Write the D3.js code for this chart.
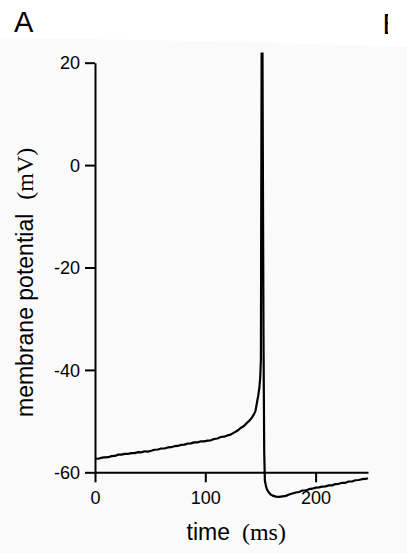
<!DOCTYPE html>
<html>
<head>
<meta charset="utf-8">
<script src="https://cdn.jsdelivr.net/npm/d3@7"></script>
<style>
  html, body { margin: 0; padding: 0; background: #fff; }
  svg { display: block; }
</style>
</head>
<body>
<svg id="chart" width="407" height="553"></svg>
<script>
// Membrane potential trace (time in ms, voltage in mV)
const timeMs = [
  0, 3, 6, 9, 12, 15, 18, 21, 24, 27, 30, 33, 36, 39, 42, 45, 48, 51, 54, 57,
  60, 63, 66, 69, 72, 75, 78, 81, 84, 87, 90, 93, 96, 99, 102, 105, 108, 111, 114, 117,
  120, 123, 126, 129, 132, 135, 138, 140, 142, 144, 145.5, 147, 148, 149, 149.8, 150.4,
  150.8, 151.1, 151.4, 151.8, 152.2, 152.8, 153.4, 154, 155, 156, 157.5, 159, 161, 164,
  167, 170, 173, 176, 179, 182, 185, 188, 191, 194, 197, 200, 203, 206, 209, 212, 215,
  218, 221, 224, 227, 230, 233, 236, 239, 242, 245, 247.5
];
const voltageMv = [
  -57.3, -57.35, -57.15, -57.1, -57.05, -56.85, -56.8, -56.55, -56.55, -56.4, -56.4, -56.25, -56.25, -56.05, -56.1, -55.9, -55.95, -55.8, -55.6, -55.55,
  -55.35, -55.35, -55.15, -55.1, -54.9, -54.85, -54.65, -54.6, -54.4, -54.35, -54.15, -54.15, -53.95, -53.95, -53.8, -53.75, -53.5, -53.4, -53.1, -53.05,
  -52.8, -52.65, -52.25, -51.9, -51.35, -50.95, -50.3, -49.9, -49.4, -48.7, -48.0, -46.2, -45.0, -43.5, -41.5, -38,
  0, 25, 34, 25, 0, -35, -56, -61.6, -62.7, -63.4, -63.9, -64.3, -64.55, -64.75,
  -64.8, -64.7, -64.6, -64.35, -64.15, -63.95, -63.85, -63.55, -63.55, -63.3, -63.2, -63.0, -62.95, -62.8, -62.75, -62.55, -62.55,
  -62.3, -62.25, -62.05, -62.05, -61.8, -61.8, -61.55, -61.5, -61.35, -61.3, -61.15
];

// Axis ticks
const xTicks = [0, 100, 200];
const yTicks = [-60, -40, -20, 0, 20];

const svg = d3.select("#chart");
const sans = "'Liberation Sans', Arial, Helvetica, sans-serif";
const serif = "'Liberation Serif', 'Times New Roman', serif";

// faint grey backdrop behind the panel
svg.append("path")
  .attr("d", "M0,38 Q200,40 407,47 L407,553 L0,553 Z")
  .attr("fill", "#fafafa");

const x = d3.scaleLinear().domain([0, 247.5]).range([95, 368]);
const y = d3.scaleLinear().domain([-60, 20]).range([472.3, 62.7]);

// plot clip (spike runs off the top)
svg.append("clipPath").attr("id", "plotClip")
  .append("rect").attr("x", 0).attr("y", 52.5).attr("width", 407).attr("height", 500);

const pts = timeMs.map((t, i) => [t, voltageMv[i]]);
const line = d3.line().x(d => x(d[0])).y(d => y(d[1])).curve(d3.curveLinear);

// axes (plain hyphen for negative labels)
const fmt = d => String(d);
const xAxis = d3.axisBottom(x).tickValues(xTicks).tickFormat(fmt).tickSize(10).tickSizeOuter(0).tickPadding(9);
const yAxis = d3.axisLeft(y).tickValues(yTicks).tickFormat(fmt).tickSize(10).tickSizeOuter(0).tickPadding(5);

const gx = svg.append("g").attr("transform", `translate(0,${y(-60)})`).call(xAxis);
const gy = svg.append("g").attr("transform", `translate(${x(0)},0)`).call(yAxis);

[gx, gy].forEach(g => {
  g.select(".domain").attr("stroke", "#000").attr("stroke-width", 2);
  g.selectAll(".tick line").attr("stroke", "#000").attr("stroke-width", 2);
  g.selectAll(".tick text")
    .attr("fill", "#000")
    .style("font-family", sans)
    .style("font-size", "18px");
});
gx.selectAll(".tick text").attr("dy", "0.72em");
gy.selectAll(".tick text").attr("dy", "0.34em");

// trace
svg.append("path")
  .datum(pts)
  .attr("clip-path", "url(#plotClip)")
  .attr("d", line)
  .attr("fill", "none")
  .attr("stroke", "#000")
  .attr("stroke-width", 2.2)
  .attr("stroke-linejoin", "round");

// axis titles
const xt = svg.append("text")
  .attr("x", 186.5).attr("y", 540)
  .attr("fill", "#000");
xt.append("tspan").style("font-family", sans).style("font-size", "23px").text("time");
xt.append("tspan").attr("dx", 12).style("font-family", serif).style("font-size", "24px").text("(ms)");

const yt = svg.append("text")
  .attr("transform", "translate(33,417) rotate(-90)")
  .attr("fill", "#000");
yt.append("tspan").style("font-family", sans).style("font-size", "23px").text("membrane potential");
yt.append("tspan").attr("dx", 14).style("font-family", serif).style("font-size", "24px").text("(mV)");

// panel letters
svg.append("text")
  .attr("x", 14).attr("y", 32)
  .style("font-family", sans).style("font-size", "29px")
  .attr("fill", "#000").text("A");

svg.append("clipPath").attr("id", "edgeClip")
  .append("rect").attr("x", 0).attr("y", 0).attr("width", 388).attr("height", 60);
svg.append("text")
  .attr("x", 382.5).attr("y", 34)
  .attr("clip-path", "url(#edgeClip)")
  .style("font-family", sans).style("font-size", "29px")
  .attr("fill", "#000").text("B");
</script>
</body>
</html>
